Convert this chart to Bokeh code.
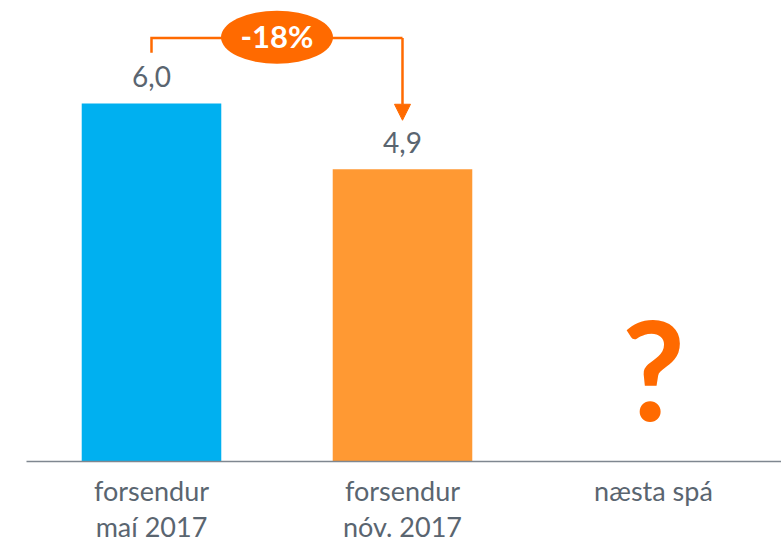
from bokeh.plotting import figure
from bokeh.models import FixedTicker, Arrow, NormalHead, Range1d
from bokeh.core.properties import value
from bokeh.embed import file_html
from bokeh.resources import INLINE

# ---- data ----
categories = ["forsendur\nmaí 2017", "forsendur\nnóv. 2017", "næsta spá"]
values = [6.0, 4.9]
bar_colors = ["#00B0F0", "#FF9933"]
value_labels = [f"{v:.1f}".replace(".", ",") for v in values]
change_pct = round((values[1] - values[0]) / values[0] * 100)
change_label = f"{change_pct}%"
unknown_label = "?"

FONT = "Lato"
TEXT = "#5A6570"
ACCENT = "#FF6A00"

xs = list(range(len(categories)))

p = figure(frame_width=755, frame_height=454,
           min_border_left=26, min_border_right=0, min_border_top=7, min_border_bottom=0,
           x_range=Range1d(-0.498, 2.51), y_range=Range1d(0, 7.61),
           output_backend="svg", toolbar_location=None)

p.vbar(x=xs[:len(values)], top=values, width=0.556, color=bar_colors, line_color=None)

p.text(x=xs[:len(values)], y=[v + 0.45 for v in values], text=value_labels,
       text_align="center", text_baseline="alphabetic",
       text_font=value(FONT), text_font_size="28px", text_color=TEXT)

# change annotation
y_top = max(values) + 1.1
p.line(x=[xs[0], xs[0], xs[1]], y=[values[0] + 0.85, y_top, y_top],
       line_color=ACCENT, line_width=2.5, line_join="miter")
p.add_layout(Arrow(x_start=xs[1], y_start=y_top, x_end=xs[1], y_end=values[1] + 0.82,
                   line_color=ACCENT, line_width=2.5,
                   end=NormalHead(size=16, fill_color=ACCENT, line_color=ACCENT)))
mid = (xs[0] + xs[1]) / 2
p.ellipse(x=[mid], y=[y_top + 0.01], width=112, height=53,
          width_units="screen", height_units="screen",
          fill_color=ACCENT, line_color=None)
p.text(x=[mid], y=[y_top + 0.03], text=[change_label], text_align="center",
       text_baseline="middle", text_font=value(FONT), text_font_style="bold",
       text_font_size="31px", text_color="white")

p.text(x=[xs[2]], y=[1.58], text=[unknown_label], text_align="center",
       text_baseline="alphabetic", text_font=value(FONT), text_font_style="bold",
       text_font_size="138px", text_color=ACCENT)

p.xaxis.ticker = FixedTicker(ticks=xs)
p.xaxis.major_label_overrides = {i: c for i, c in zip(xs, categories)}
p.xaxis.major_tick_line_color = None
p.xaxis.minor_tick_line_color = None
p.xaxis.axis_line_color = "#7F8790"
p.xaxis.axis_line_width = 1.5
p.xaxis.major_label_text_font = FONT
p.xaxis.major_label_text_font_size = "27px"
p.xaxis.major_label_text_color = TEXT
p.xaxis.major_label_text_line_height = 1.12
p.xaxis.major_label_standoff = 6
p.yaxis.visible = False
p.xgrid.visible = False
p.ygrid.visible = False
p.outline_line_color = None

open("out.html", "w").write(file_html(p, INLINE))
